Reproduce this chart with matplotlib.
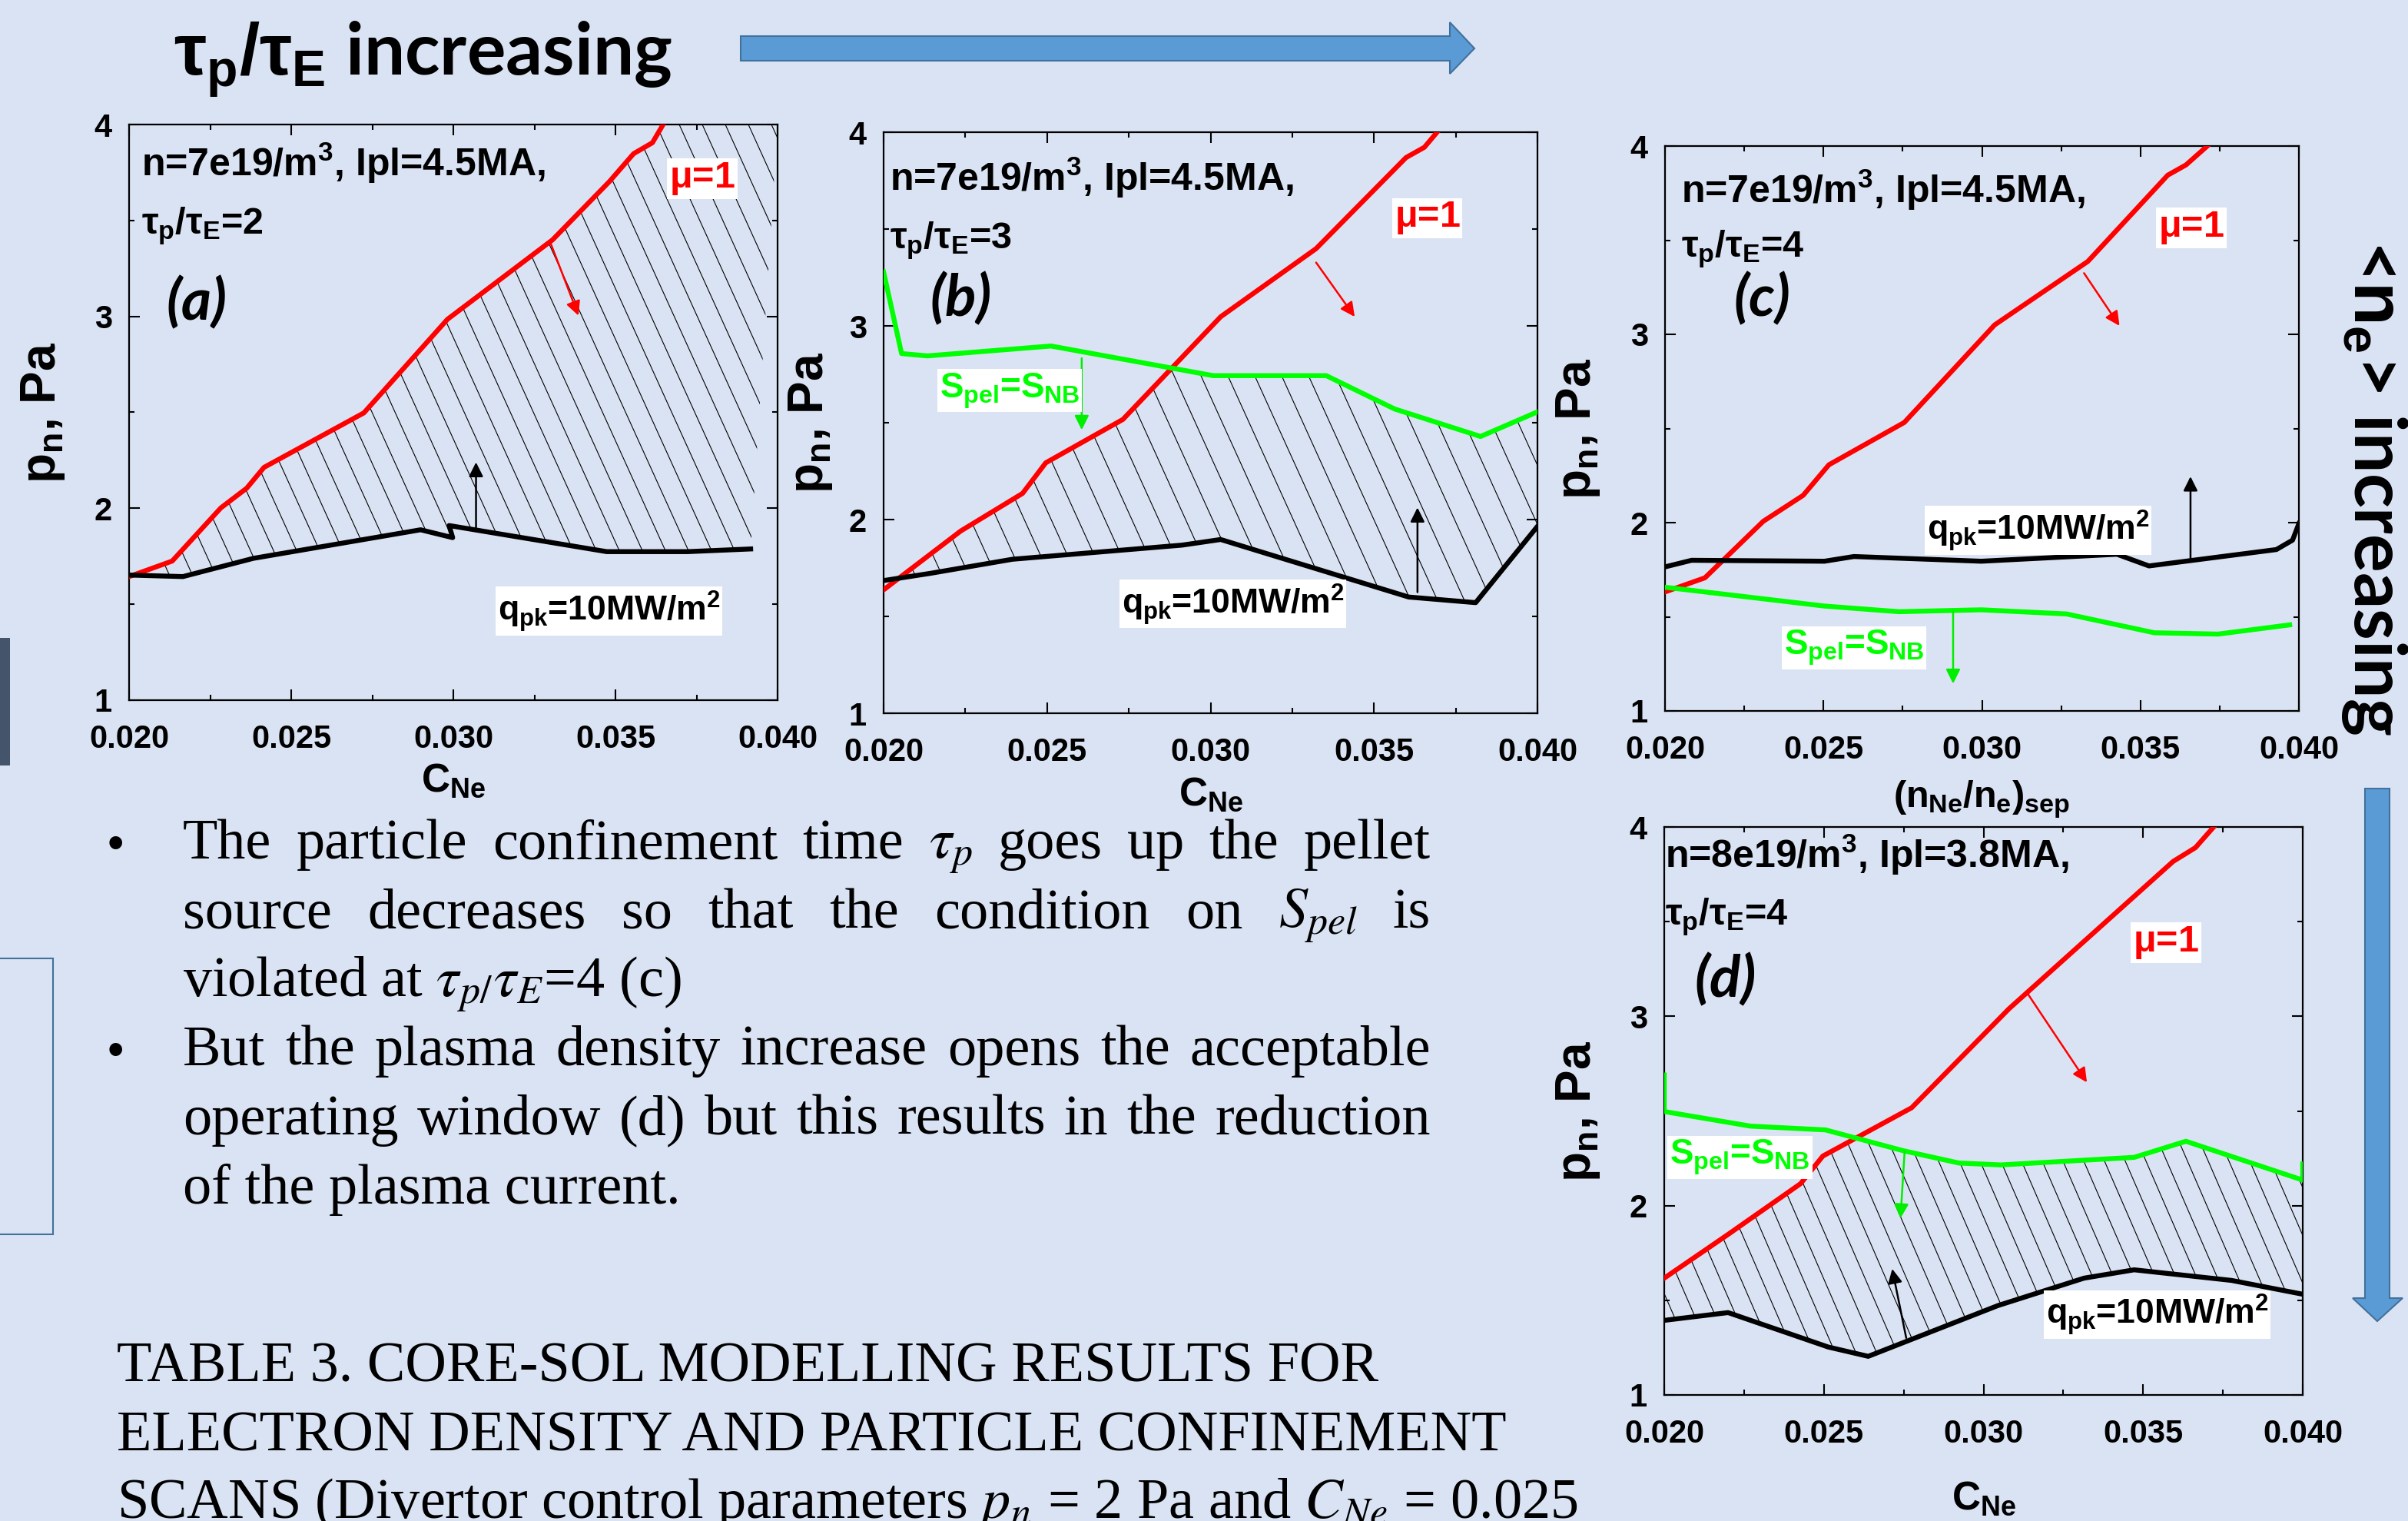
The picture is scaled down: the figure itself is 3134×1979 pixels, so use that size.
import numpy as np
import matplotlib
matplotlib.use('Agg')
import matplotlib.pyplot as plt
from matplotlib.collections import LineCollection
from matplotlib.patches import Polygon
from matplotlib.ticker import MultipleLocator

plt.rcParams['font.family'] = ['Liberation Sans', 'DejaVu Sans']
plt.rcParams['axes.labelweight'] = 'bold'
plt.rcParams['mathtext.fontset'] = 'custom'
plt.rcParams['mathtext.rm'] = 'Liberation Sans:bold'
plt.rcParams['mathtext.it'] = 'Liberation Sans:bold'
plt.rcParams['mathtext.bf'] = 'Liberation Sans:bold'
plt.rcParams['mathtext.sf'] = 'Liberation Sans:bold'

# ---- data (x = C_Ne, y = p_n in Pa) ----
a_red_x = [0.0200, 0.02133, 0.02283, 0.02363, 0.02416, 0.02724, 0.02982, 0.03306, 0.03481, 0.03556, 0.03614, 0.03647]
a_red_y = [1.644, 1.725, 2.002, 2.105, 2.213, 2.497, 2.985, 3.399, 3.702, 3.848, 3.905, 4.0]
a_blk_x = [0.0200, 0.02166, 0.02383, 0.02899, 0.02998, 0.02987, 0.03473, 0.03722, 0.03917]
a_blk_y = [1.652, 1.644, 1.739, 1.888, 1.847, 1.910, 1.774, 1.774, 1.788]

b_red_x = [0.0200, 0.02236, 0.02425, 0.02496, 0.02732, 0.03031, 0.03323, 0.03598, 0.03654, 0.03693]
b_red_y = [1.637, 1.941, 2.135, 2.293, 2.517, 3.047, 3.399, 3.869, 3.922, 4.0]
b_grn_x = [0.0200, 0.02055, 0.02134, 0.02512, 0.03008, 0.03354, 0.03563, 0.03826, 0.0400]
b_grn_y = [3.278, 2.857, 2.845, 2.896, 2.743, 2.743, 2.571, 2.429, 2.556]
b_blk_x = [0.0200, 0.02142, 0.02394, 0.02913, 0.03031, 0.03606, 0.03811, 0.0400]
b_blk_y = [1.685, 1.722, 1.795, 1.868, 1.897, 1.600, 1.571, 1.965]

c_red_x = [0.0200, 0.02126, 0.0231, 0.02436, 0.02517, 0.02755, 0.0304, 0.03334, 0.03586, 0.03644, 0.03711]
c_red_y = [1.632, 1.707, 2.007, 2.145, 2.307, 2.532, 3.05, 3.387, 3.845, 3.9, 4.0]
c_blk_x = [0.0200, 0.02084, 0.02503, 0.02596, 0.02998, 0.03426, 0.03527, 0.03929, 0.0398, 0.0400]
c_blk_y = [1.765, 1.8, 1.795, 1.82, 1.795, 1.832, 1.77, 1.857, 1.907, 1.995]
c_grn_x = [0.0200, 0.02503, 0.02738, 0.02998, 0.03267, 0.03544, 0.03745, 0.03971]
c_grn_y = [1.657, 1.557, 1.527, 1.537, 1.515, 1.415, 1.408, 1.457]

d_red_x = [0.0200, 0.0220, 0.02427, 0.02497, 0.02775, 0.0308, 0.03594, 0.03664, 0.03721]
d_red_y = [1.617, 1.848, 2.116, 2.262, 2.517, 3.04, 3.818, 3.891, 4.0]
d_grn_x = [0.0200, 0.0200, 0.0227, 0.02505, 0.02749, 0.02923, 0.03054, 0.03472, 0.03634, 0.0400, 0.0400]
d_grn_y = [2.69, 2.497, 2.42, 2.40, 2.29, 2.225, 2.215, 2.255, 2.34, 2.135, 2.22]
d_blk_x = [0.0200, 0.0220, 0.02514, 0.02639, 0.03045, 0.03315, 0.03472, 0.03777, 0.0400]
d_blk_y = [1.394, 1.435, 1.253, 1.204, 1.472, 1.617, 1.661, 1.605, 1.532]

# arrows: (start, end) in data units
a_arrows = [((0.03301, 3.377), (0.03386, 3.004), 'red'), ((0.0307, 1.893), (0.0307, 2.24), 'black')]
b_arrows = [((0.03323, 3.327), (0.03441, 3.047), 'red'), ((0.02606, 2.833), (0.02606, 2.463), '#00ee00'),
            ((0.03633, 1.625), (0.03633, 2.062), 'black')]
c_arrows = [((0.03322, 3.325), (0.03434, 3.045), 'red'), ((0.03658, 1.808), (0.03658, 2.245), 'black'),
            ((0.02909, 1.533), (0.02909, 1.145), '#00ee00')]
d_arrows = [((0.03141, 3.113), (0.03324, 2.651), 'red'), ((0.02753, 2.286), (0.0274, 1.933), '#00ee00'),
            ((0.02758, 1.301), (0.02714, 1.666), 'black')]

cond_a = ['n=7e19/m$^3$, Ipl=4.5MA,', r'$\tau_p/\tau_E$=2', '(a)']
cond_b = ['n=7e19/m$^3$, Ipl=4.5MA,', r'$\tau_p/\tau_E$=3', '(b)']
cond_c = ['n=7e19/m$^3$, Ipl=4.5MA,', r'$\tau_p/\tau_E$=4', '(c)']
cond_d = ['n=8e19/m$^3$, Ipl=3.8MA,', r'$\tau_p/\tau_E$=4', '(d)']

bullet1 = [['The', 'particle', 'confinement', 'time', r'$\tau_p$', 'goes', 'up', 'the', 'pellet'],
           ['source', 'decreases', 'so', 'that', 'the', 'condition', 'on', r'$S_{pel}$', 'is'],
           [r'violated at $\tau_{p/}\tau_E$=4 (c)']]
bullet2 = [['But', 'the', 'plasma', 'density', 'increase', 'opens', 'the', 'acceptable'],
           ['operating', 'window', '(d)', 'but', 'this', 'results', 'in', 'the', 'reduction'],
           ['of the plasma current.']]
table_lines = ['TABLE 3. CORE-SOL MODELLING RESULTS FOR',
               'ELECTRON DENSITY AND PARTICLE CONFINEMENT',
               r'SCANS (Divertor control parameters $p_n$ = 2 Pa and $C_{Ne}$ = 0.025']

BG = '#DAE3F3'
RED = '#FF0000'
GRN = '#00FF00'
LW = 4.6
W, H = 3134, 1979

fig = plt.figure(figsize=(W / 100, H / 100), dpi=100, facecolor=BG)


def fx(px):
    return px / W


def fy(py):
    return 1 - py / H


def make_axes(box):
    x0, y0, x1, y1 = box
    ax = fig.add_axes([fx(x0), fy(y1), (x1 - x0) / W, (y1 - y0) / H])
    ax.set_facecolor(BG)
    ax.set_xlim(0.020, 0.040)
    ax.set_ylim(1, 4)
    ax.xaxis.set_major_locator(MultipleLocator(0.005))
    ax.xaxis.set_minor_locator(MultipleLocator(0.0025))
    ax.yaxis.set_major_locator(MultipleLocator(1))
    ax.yaxis.set_minor_locator(MultipleLocator(0.5))
    ax.xaxis.set_major_formatter(plt.FuncFormatter(lambda v, p: '%.3f' % v))
    ax.yaxis.set_major_formatter(plt.FuncFormatter(lambda v, p: '%d' % round(v)))
    ax.tick_params(which='both', direction='in', top=True, right=True, width=1.5)
    ax.tick_params(which='major', length=10, labelsize=30)
    ax.tick_params(which='minor', length=5)
    ax.tick_params(axis='x', pad=22)
    ax.tick_params(axis='y', pad=16)
    for lab in ax.get_xticklabels() + ax.get_yticklabels():
        lab.set_fontweight('bold')
    for s in ax.spines.values():
        s.set_linewidth(1.6)
    return ax


def hatch(ax, hi_x, hi_y, lo_x, lo_y, spacing, steep):
    poly = np.column_stack([np.r_[hi_x, lo_x[::-1]], np.r_[hi_y, lo_y[::-1]]])
    patch = Polygon(poly, closed=True, fc='none', ec='none')
    ax.add_patch(patch)
    bb = ax.get_position()
    wpx, hpx = bb.width * W, bb.height * H
    run = hpx / steep / wpx
    segs = [[(c, 1), (c + run, 0)] for c in np.arange(-1.0, 1.2, spacing / wpx)]
    lc = LineCollection(segs, colors='black', linewidths=0.8, transform=ax.transAxes, zorder=1)
    lc.set_clip_path(patch)
    ax.add_collection(lc)


def arrows(ax, items):
    for st, en, col in items:
        ax.annotate('', xy=en, xytext=st,
                    arrowprops=dict(arrowstyle='-|>', color=col, lw=1.8, mutation_scale=28,
                                    shrinkA=0, shrinkB=0), zorder=5)


def conditions(ax, lines, pos):
    (x0, y1, y2), (xl, yl) = pos
    ax.text(x0, y1, lines[0], fontsize=36, va='baseline', ha='left', weight='bold')
    ax.text(x0, y2, lines[1], fontsize=35, va='baseline', ha='left', weight='bold')
    ax.text(xl, yl, lines[2], fontsize=54, va='baseline', ha='left',
            family=['Lato', 'DejaVu Sans'], style='italic', weight='bold')


def tag(ax, x, y, s, col, size=35):
    ax.text(x, y, s, fontsize=size, color=col, ha='center', va='baseline', zorder=6, weight='bold',
            bbox=dict(fc='white', ec='none', pad=2))


def labels(ax, xl, xsize, ycoord, xcoord):
    ax.set_ylabel(r'$p_n$, Pa', fontsize=46, va='center')
    ax.set_xlabel(xl, fontsize=xsize, va='center')
    ax.yaxis.set_label_coords(ycoord, 0.5)
    ax.xaxis.set_label_coords(0.5, xcoord)


grid = np.linspace(0.020, 0.040, 801)
QPK = r'$q_{pk}$=10MW/m$^2$'
SPEL = r'$S_{pel}$=$S_{NB}$'

# ---- panel (a)
ax = make_axes((168, 162, 1012, 911))
ax.plot(a_red_x, a_red_y, color=RED, lw=LW, zorder=3)
ax.plot(a_blk_x, a_blk_y, color='black', lw=LW, zorder=3)
hi = np.minimum(np.interp(grid, a_red_x, a_red_y), 4.0)
hatch(ax, grid, hi, np.array(a_blk_x), np.array(a_blk_y), 30, 2.2)
arrows(ax, a_arrows)
conditions(ax, cond_a, ((0.02037, 3.73, 3.43), (0.02116, 2.98)))
tag(ax, 0.03768, 3.67, r'$\mu$=1', RED)
tag(ax, 0.0348, 1.414, QPK, 'black', 32)
labels(ax, r'$C_{Ne}$', 37, -0.133, -0.14)

# ---- panel (b)
ax = make_axes((1150, 172, 2001, 928))
ax.plot(b_red_x, b_red_y, color=RED, lw=LW, zorder=3)
ax.plot(b_grn_x, b_grn_y, color=GRN, lw=LW, zorder=3)
ax.plot(b_blk_x, b_blk_y, color='black', lw=LW, zorder=3)
lo = np.interp(grid, b_blk_x, b_blk_y)
hi = np.maximum(np.minimum(np.interp(grid, b_red_x, b_red_y), np.interp(grid, b_grn_x, b_grn_y)), lo)
hatch(ax, grid, hi, grid, lo, 35, 2.2)
arrows(ax, b_arrows)
conditions(ax, cond_b, ((0.02019, 3.70, 3.40), (0.02142, 3.05)))
tag(ax, 0.03663, 3.51, r'$\mu$=1', RED)
tag(ax, 0.02386, 2.63, SPEL, GRN, 33)
tag(ax, 0.03069, 1.515, QPK, 'black', 32)
labels(ax, r'$C_{Ne}$', 37, -0.112, -0.14)

# ---- panel (c)
ax = make_axes((2167, 190, 2992, 925))
ax.plot(c_red_x, c_red_y, color=RED, lw=LW, zorder=3)
ax.plot(c_blk_x, c_blk_y, color='black', lw=LW, zorder=3)
ax.plot(c_grn_x, c_grn_y, color=GRN, lw=LW, zorder=3)
arrows(ax, c_arrows)
conditions(ax, cond_c, ((0.0205, 3.70, 3.41), (0.02218, 3.095)))
tag(ax, 0.03661, 3.52, r'$\mu$=1', RED)
tag(ax, 0.03178, 1.9075, QPK, 'black', 32)
tag(ax, 0.02597, 1.30, SPEL, GRN, 33)
labels(ax, r'$(n_{Ne}/n_e)_{sep}$', 35, -0.137, -0.157)

# ---- panel (d)
ax = make_axes((2166, 1076, 2997, 1815))
ax.plot(d_red_x, d_red_y, color=RED, lw=LW, zorder=3)
ax.plot(d_grn_x, d_grn_y, color=GRN, lw=LW, zorder=3)
ax.plot(d_blk_x, d_blk_y, color='black', lw=LW, zorder=3)
lo = np.interp(grid, d_blk_x, d_blk_y)
hi = np.maximum(np.minimum(np.interp(grid, d_red_x, d_red_y), np.interp(grid, d_grn_x[1:], d_grn_y[1:])), lo)
hatch(ax, grid, hi, grid, lo, 27, 2.3)
arrows(ax, d_arrows)
conditions(ax, cond_d, ((0.02003, 3.786, 3.485), (0.02096, 3.10)))
tag(ax, 0.03571, 3.344, r'$\mu$=1', RED)
tag(ax, 0.02237, 2.22, SPEL, GRN, 33)
tag(ax, 0.03545, 1.374, QPK, 'black', 32)
labels(ax, r'$C_{Ne}$', 37, -0.135, -0.183)

# ---- slide decorations
face, edge = '#5B9BD5', '#41719C'
fig.patches.append(Polygon([(fx(964), fy(47)), (fx(1887), fy(47)), (fx(1887), fy(29)), (fx(1919), fy(63)),
                            (fx(1887), fy(96)), (fx(1887), fy(79)), (fx(964), fy(79))],
                           closed=True, fc=face, ec=edge, lw=1.5, transform=fig.transFigure))
fig.patches.append(Polygon([(fx(3078), fy(1026)), (fx(3110), fy(1026)), (fx(3110), fy(1689)), (fx(3127), fy(1689)),
                            (fx(3094), fy(1719)), (fx(3062), fy(1689)), (fx(3078), fy(1689))],
                           closed=True, fc=face, ec=edge, lw=1.5, transform=fig.transFigure))
fig.patches.append(plt.Rectangle((0, fy(996)), fx(13), (996 - 830) / H, fc='#44546A', ec='none',
                                 transform=fig.transFigure))
fig.patches.append(plt.Rectangle((fx(-5), fy(1606)), fx(74), (1606 - 1247) / H, fc='none', ec=edge, lw=1.5,
                                 transform=fig.transFigure))

fig.text(fx(226), fy(97), r'$\tau_p/\tau_E$ increasing', fontsize=68, va='baseline', ha='left',
         family=['Lato', 'DejaVu Sans'], weight='bold')
fig.text(fx(3064), fy(312), r'<$n_e$> increasing', fontsize=67, va='baseline', ha='left',
         rotation=270, rotation_mode='anchor', family=['Lato', 'DejaVu Sans'], weight='bold')

# ---- body text (justified like the slide)
renderer = fig.canvas.get_renderer()
serif = dict(fontsize=53.5, family=['Liberation Serif', 'DejaVu Serif'], weight='normal',
             math_fontfamily='stix', va='baseline', ha='left')


def text_line(words, x0, x1, ybase, justify):
    parts = [fig.text(fx(x0), fy(ybase), w, **serif) for w in words]
    if not justify:
        return
    widths = [t.get_window_extent(renderer).width for t in parts]
    gap = (x1 - x0 - sum(widths)) / (len(parts) - 1)
    x = x0
    for t, w in zip(parts, widths):
        t.set_x(fx(x))
        x += w + gap


bases = [1117, 1207, 1297, 1386, 1476, 1566]
for i, line in enumerate(bullet1 + bullet2):
    text_line(line, 238, 1862, bases[i], i % 3 != 2)
for yb in (bases[0], bases[3]):
    fig.text(fx(140), fy(yb), '\u2022', fontsize=44, family=['Liberation Sans'], weight='normal',
             va='baseline', ha='left')
for yb, s in zip([1797, 1887, 1975], table_lines):
    fig.text(fx(152), fy(yb), s, **serif)

fig.savefig('out.png', dpi=100, facecolor=BG)
